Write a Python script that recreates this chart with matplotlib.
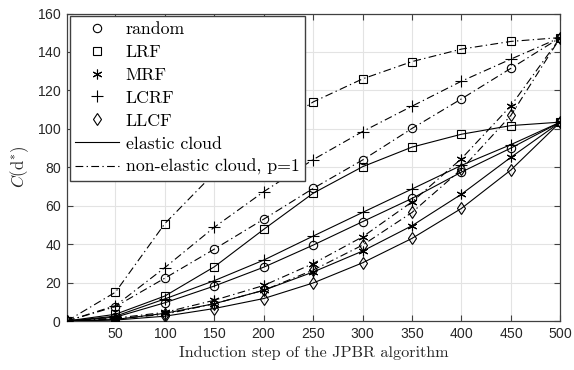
import numpy as np
import matplotlib
matplotlib.use("Agg")
from matplotlib import pyplot as plt
from matplotlib.lines import Line2D

plt.rcParams['mathtext.fontset'] = 'cm'
plt.rcParams['axes.formatter.use_mathtext'] = True

steps = [1, 50, 100, 150, 200, 250, 300, 350, 400, 450, 500]
labels = ["random", "LRF", "MRF", "LCRF", "LLCF"]
markers = ["o", "s", (6, 2, 0), "+", "d"]
msizes = [6, 5.5, 7, 8, 6.5]

# elastic cloud (solid lines)
el_random = [0, 2, 9.5, 18.2, 28, 39.5, 51.7, 63.8, 77.5, 90, 103.5]
el_lrf = [0, 3.5, 13, 28.2, 47.7, 66.5, 80.3, 90.5, 97.2, 101.7, 103.5]
el_mrf = [0, 0.8, 4, 9, 16, 25.5, 36.4, 49.6, 66, 85.2, 103.5]
el_lcrf = [0, 2.5, 11.5, 21, 31.7, 44.2, 56.5, 68.7, 81, 91.8, 103.5]
el_llcf = [0, 0.5, 2.5, 6.5, 11.7, 19.8, 30.3, 43, 58.6, 78.6, 103.5]

# non-elastic cloud, p=1 (dash-dot lines)
ne_random = [0, 7.5, 22.3, 37.4, 53, 69, 83.8, 100.2, 115.6, 131.5, 147.5]
ne_lrf = [0, 15, 50.7, 77, 97, 114, 126, 135, 141.5, 145.5, 147.5]
ne_mrf = [0, 1.5, 4.5, 10.8, 18.5, 29.9, 43.8, 62, 84.5, 112, 147.5]
ne_lcrf = [0, 8, 27.8, 48.8, 67.3, 84, 98.6, 111.8, 124.8, 136.3, 147.5]
ne_llcf = [0, 1, 3.5, 9, 16, 26.5, 39.5, 56.5, 79, 107, 147.5]

elastic = [el_random, el_lrf, el_mrf, el_lcrf, el_llcf]
nonelastic = [ne_random, ne_lrf, ne_mrf, ne_lcrf, ne_llcf]

fig = plt.figure(figsize=(5.74, 3.70), dpi=100)
ax = fig.add_axes([0.1167, 0.1324, 0.8595, 0.831])

dd = (0, (7, 3, 1.2, 3))
for m, s, y in zip(markers, msizes, nonelastic):
    ax.plot(steps, y, color="k", lw=0.8, linestyle=dd, marker=m,
            ms=s, mfc="none", mec="k", mew=0.8, zorder=3)
for m, s, y in zip(markers, msizes, elastic):
    ax.plot(steps, y, color="k", lw=0.8, linestyle="-", marker=m,
            ms=s, mfc="none", mec="k", mew=0.8, zorder=3)

ax.set_xlim(1, 500)
ax.set_ylim(0, 160)
ax.set_xticks([50, 100, 150, 200, 250, 300, 350, 400, 450, 500])
ax.set_yticks([0, 20, 40, 60, 80, 100, 120, 140, 160])
ax.grid(True, color="#e3e3e3", lw=0.8, zorder=0)
ax.set_axisbelow(True)
ax.tick_params(direction="in", top=True, right=True, length=4, width=0.8,
               color="#404040", labelsize=10, pad=4)
for lab in ax.get_xticklabels() + ax.get_yticklabels():
    lab.set_fontfamily("Liberation Sans")
    lab.set_color("#262626")
for sp in ax.spines.values():
    sp.set_color("#404040")
    sp.set_linewidth(0.9)

ax.set_xlabel("Induction step of the JPBR algorithm", fontfamily="cmr10",
              fontsize=11.7, labelpad=4, color="#262626")
ax.set_ylabel(r"$C(\mathrm{d}^{*})$", fontsize=12, labelpad=4, color="#262626")

handles = [Line2D([], [], color="k", lw=0, marker=m, ms=s,
                  mfc="none", mec="k", mew=0.8) for m, s in zip(markers, msizes)]
handles.append(Line2D([], [], color="k", lw=0.8, linestyle="-"))
handles.append(Line2D([], [], color="k", lw=0.8, linestyle=dd))
leg = ax.legend(handles, labels + ["elastic cloud", "non-elastic cloud, p=1"],
                loc="upper left", prop={"family": "cmr10", "size": 12.8},
                handlelength=2.5, handletextpad=0.35, labelspacing=0.42,
                borderpad=0.3, borderaxespad=0.15, fancybox=False,
                framealpha=1, edgecolor="#404040")
leg.get_frame().set_linewidth(1.0)

fig.savefig("out.png", dpi=100)
